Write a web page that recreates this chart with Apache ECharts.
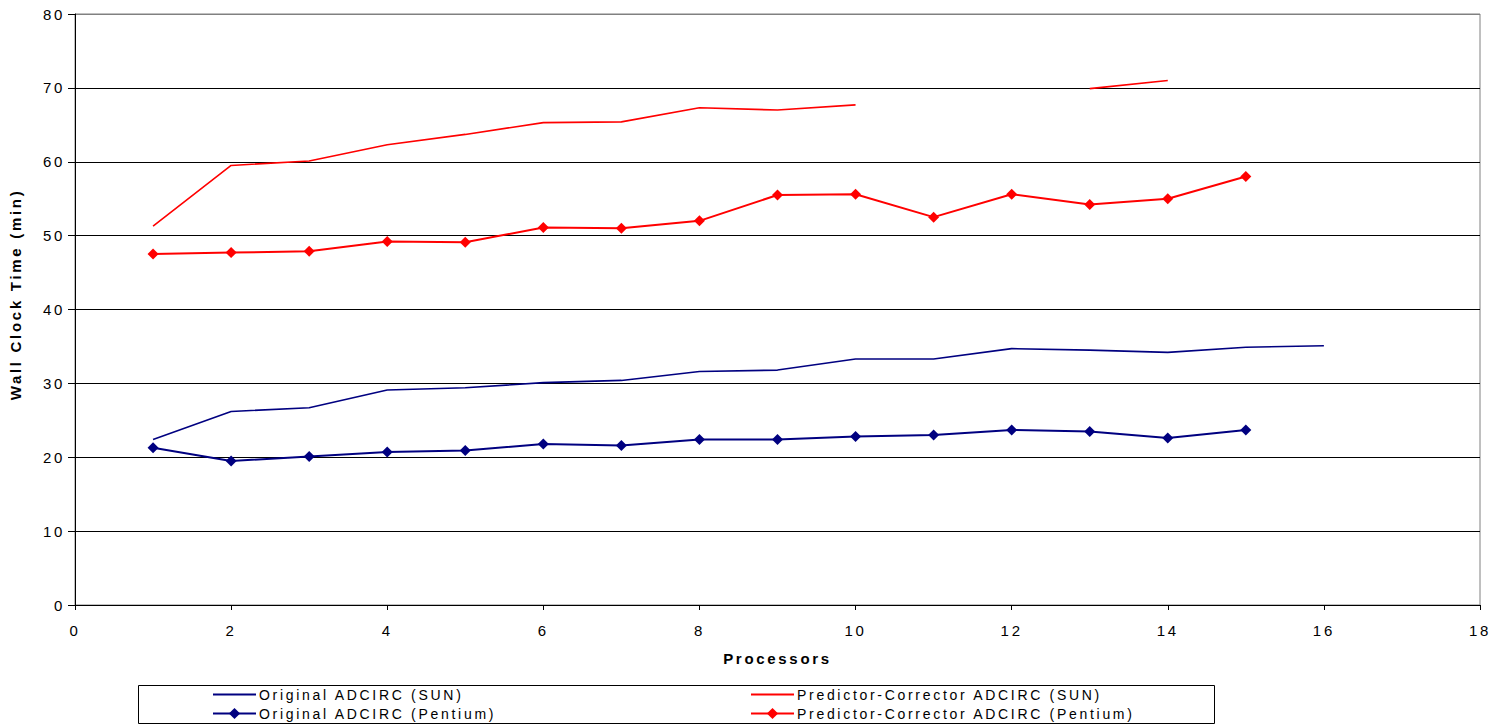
<!DOCTYPE html>
<html>
<head>
<meta charset="utf-8">
<script src="https://cdn.jsdelivr.net/npm/echarts@6/dist/echarts.min.js"></script>
<style>
  html, body { margin: 0; padding: 0; background: #fff; }
  #chart { width: 1505px; height: 726px; }
  /* wide, airy lettering for every label in the chart */
  #chart svg text { letter-spacing: 2.7px; }
</style>
</head>
<body>
<div id="chart"></div>
<script>
// Processor counts on the x axis
const processors = [1, 2, 3, 4, 5, 6, 7, 8, 9, 10, 11, 12, 13, 14, 15, 16];

// Wall clock time (min) per run; null marks runs with no timing
const originalSun = [22.4, 26.2, 26.7, 29.1, 29.4, 30.1, 30.4, 31.6, 31.8, 33.3, 33.3, 34.7, 34.5, 34.2, 34.9, 35.1];
const predictorSun = [51.3, 59.5, 60.1, 62.3, 63.7, 65.3, 65.4, 67.3, 67.0, 67.7, null, null, 69.9, 71.0, null, null];
const originalPentium = [21.3, 19.5, 20.1, 20.7, 20.9, 21.8, 21.6, 22.4, 22.4, 22.8, 23.0, 23.7, 23.5, 22.6, 23.7, null];
const predictorPentium = [47.5, 47.7, 47.9, 49.2, 49.1, 51.1, 51.0, 52.0, 55.5, 55.6, 52.5, 55.6, 54.2, 55.0, 58.0, null];

const seriesNames = [
  'Original ADCIRC (SUN)',
  'Predictor-Corrector ADCIRC (SUN)',
  'Original ADCIRC (Pentium)',
  'Predictor-Corrector ADCIRC (Pentium)'
];

const pairs = (vals) => processors.map((p, i) => [p, vals[i]]);

const font = 'Liberation Sans, Arial, sans-serif';
const navy = '#000080';
const red = '#ff0000';

const chart = echarts.init(document.getElementById('chart'), null, { renderer: 'svg' });

// horizontal rules: black inside the plot, grey along the top edge
const gridColors = ['#000', '#000', '#000', '#000', '#000', '#000', '#000', '#000', '#808080'];

const legendBase = {
  top: 685, orient: 'vertical', itemGap: 0, padding: 0,
  itemWidth: 43, itemHeight: 14,
  textStyle: { fontFamily: font, fontSize: 14, color: '#000', lineHeight: 19, padding: [0, 0, 0, -2] }
};
// line-only swatch for the series drawn without markers
const plainItem = (name) => ({ name, itemStyle: { opacity: 0 } });

chart.setOption({
  animation: false,
  backgroundColor: '#fff',
  textStyle: { fontFamily: font },
  grid: {
    left: 75, right: 25, top: 14, bottom: 121,
    show: true, borderColor: '#808080', borderWidth: 1
  },
  xAxis: {
    type: 'value',
    min: 0, max: 18, interval: 2,
    name: 'Processors',
    nameLocation: 'middle',
    nameGap: 46,
    nameTextStyle: { fontFamily: font, fontSize: 15, fontWeight: 'bold', color: '#000' },
    axisLine: { show: true, onZero: false, lineStyle: { color: '#000', width: 1 } },
    axisTick: { show: true, length: 5, lineStyle: { color: '#000' } },
    axisLabel: { fontFamily: font, fontSize: 15, color: '#000', margin: 18 },
    splitLine: { show: false }
  },
  yAxis: {
    type: 'value',
    min: 0, max: 80, interval: 10,
    name: 'Wall Clock Time (min)',
    nameLocation: 'middle',
    nameGap: 52,
    nameRotate: 90,
    nameTextStyle: { fontFamily: font, fontSize: 15, fontWeight: 'bold', color: '#000', padding: [0, 0, 0, 30] },
    axisLine: { show: true, lineStyle: { color: '#000', width: 1 } },
    axisTick: { show: true, length: 7, lineStyle: { color: '#000' } },
    axisLabel: { fontFamily: font, fontSize: 15, color: '#000', margin: 10 },
    splitLine: { show: true, lineStyle: { color: gridColors, width: 1 } }
  },
  legend: [
    Object.assign({ left: 212, data: [plainItem(seriesNames[0]), seriesNames[2]] }, legendBase),
    Object.assign({ left: 750, data: [plainItem(seriesNames[1]), seriesNames[3]] }, legendBase)
  ],
  graphic: [
    {
      type: 'rect',
      shape: { x: 138.5, y: 685.5, width: 1076, height: 38 },
      style: { fill: 'none', stroke: '#000', lineWidth: 1 },
      z: 0
    }
  ],
  series: [
    {
      name: seriesNames[0], type: 'line', data: pairs(originalSun),
      symbol: 'none', connectNulls: false,
      lineStyle: { color: navy, width: 1.6 }, itemStyle: { color: navy }
    },
    {
      name: seriesNames[1], type: 'line', data: pairs(predictorSun),
      symbol: 'none', connectNulls: false,
      lineStyle: { color: red, width: 1.6 }, itemStyle: { color: red }
    },
    {
      name: seriesNames[2], type: 'line', data: pairs(originalPentium),
      symbol: 'diamond', symbolSize: 11, showAllSymbol: true,
      lineStyle: { color: navy, width: 2 }, itemStyle: { color: navy }
    },
    {
      name: seriesNames[3], type: 'line', data: pairs(predictorPentium),
      symbol: 'diamond', symbolSize: 11, showAllSymbol: true,
      lineStyle: { color: red, width: 2 }, itemStyle: { color: red }
    }
  ]
});
</script>
</body>
</html>
